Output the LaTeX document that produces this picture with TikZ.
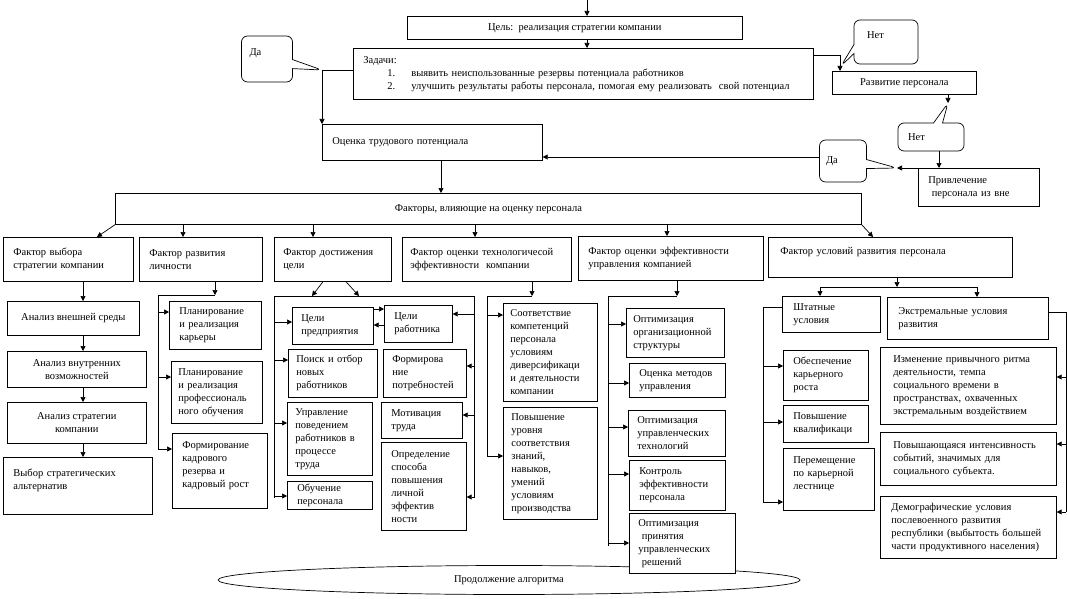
\documentclass[tikz,border=0pt]{standalone}
\usepackage{fontspec}
\setmainfont{Liberation Serif}
\usetikzlibrary{arrows.meta,shapes.geometric,shapes.callouts}
\hyphenpenalty=10000
\exhyphenpenalty=10000
\begin{document}
\begin{tikzpicture}[x=1pt,y=-1pt,line width=0.7pt,
  font=\fontsize{10.5}{13}\selectfont,
  box/.style n args={3}{draw,fill=white,anchor=north west,inner sep=0pt,align=left,minimum width=#1pt,minimum height=#2pt,text width=#3pt},
  cbox/.style 2 args={draw,fill=white,anchor=north west,inner sep=0pt,align=center,minimum width=#1pt,minimum height=#2pt},
  say/.style={rectangle callout,draw,fill=white,rounded corners=6pt,callout pointer width=9pt,inner sep=0pt,align=left},
  arr/.style={-{Triangle[length=5pt,width=5pt]}}]
\useasboundingbox (0,0) rectangle (1067,599);

\node[draw,ellipse,minimum width=582pt,minimum height=29pt,inner sep=0pt] (cont) at (509,580) {Продолжение алгоритма};

% top
\node[cbox={335}{23}] (goal) at (407,16) {Цель:\ \ реализация стратегии компании};
\node[box={460}{51}{440}] (tasks) at (353,48) {Задачи:\\\hspace*{24pt}\makebox[24pt][l]{1.}выявить неиспользованные резервы потенциала работников\\\hspace*{24pt}\makebox[24pt][l]{2.}улучшить результаты работы персонала, помогая ему реализовать\ \ свой потенциал};
\node[box={220}{36}{200}] (ocenka) at (322,124) {Оценка трудового потенциала};
\node[cbox={144}{23}] (razv) at (832,71) {Развитие персонала};
\node[box={121}{38}{101}] (privl) at (918,168) {Привлечение\\\ персонала из вне};
\node[cbox={746}{31}] (factors) at (115,193) {Факторы, влияющие на оценку персонала};

\coordinate (top) at (587,0);
\coordinate (yes1) at (322,70);
\coordinate (no1) at (840,55);
\coordinate (no1tip) at (841,66);
\coordinate (no2tip) at (948,103);
\coordinate (yes2tip) at (897,168);

\node[say,callout absolute pointer={(yes1)},minimum width=51pt,minimum height=46pt,text width=35pt] (da1) at (267,59) {Да\\\mbox{}};
\node[say,callout absolute pointer={(no1tip)},minimum width=64pt,minimum height=44pt,text width=38pt] (net1) at (886,42) {Нет\\\mbox{}};
\node[say,callout absolute pointer={(no2tip)},minimum width=66pt,minimum height=28pt,text width=46pt] (net2) at (931,137) {Нет};
\node[say,callout absolute pointer={(yes2tip)},minimum width=47pt,minimum height=42pt,text width=34pt] (da2) at (843,161) {Да};

\draw[arr] (top) -- (goal.north -| top);
\draw[arr] (goal.south -| top) -- (tasks.north -| top);
\draw (tasks.west |- yes1) -- (yes1);
\draw[arr] (yes1) -- (ocenka.north west);
\draw[arr] (tasks.east |- no1) -- (no1) -- (razv.north -| no1);
\draw[arr] (razv.south -| no2tip) -- (no2tip);
\draw[arr] (net2.south -| 939,0) -- (privl.north -| 939,0);
\draw[arr] (privl.north west) -- (yes2tip);
\draw[arr] (da2.west |- 0,157) -- (ocenka.east |- 0,157);
\draw[arr] (ocenka.south -| 441,0) -- (factors.north -| 441,0);

% factors
\node[box={130}{44}{110}] (f1) at (3,237) {Фактор выбора\\стратегии компании};
\node[box={123}{44}{103}] (f2) at (139,237) {Фактор развития\\личности};
\node[box={117}{44}{99}] (f3) at (274,237) {Фактор достижения\\цели};
\node[box={169}{44}{153}] (f4) at (402,237) {Фактор оценки технологичесой\\эффективности\ \ компании};
\node[box={185}{44}{165}] (f5) at (578,236) {Фактор оценки эффективности\\управления компанией};
\node[box={244}{40}{220}] (f6) at (768,237) {Фактор условий развития персонала\\\mbox{}};

\draw[arr] (factors.south west) -- (f1.north -| 97,0);
\foreach \xx/\ff in {183/f2,313/f3,475/f4,667/f5}
  \draw[arr] (factors.south -| \xx,0) -- (\ff.north -| \xx,0);
\draw[arr] (factors.south east) -- (f6.north -| 873,0);

% strategy
\node[cbox={132}{34}] (a1) at (7,301) {Анализ внешней среды};
\node[cbox={139}{36}] (a2) at (7,351) {Анализ внутренних\\возможностей};
\node[cbox={139}{41}] (a3) at (7,402) {Анализ стратегии\\компании};
\node[box={149}{57}{129}] (a4) at (3,457) {Выбор стратегических\\альтернатив\\\mbox{}};
\foreach \pp/\qq in {f1/a1,a1/a2,a2/a3,a3/a4}
  \draw[arr] (\pp.south -| 83,0) -- (\qq.north -| 83,0);

% personality
\coordinate (busB) at (158,295);
\node[box={92}{48}{72}] (b1) at (169,301) {Планирование\\и реализация\\карьеры};
\node[box={91}{62}{77}] (b2) at (171,361) {Планирование\\и реализация\\профессиональ\\ного обучения};
\node[box={95}{75}{75}] (b3) at (172,433) {Формирование\\кадрового\\резерва и\\кадровый рост\\\mbox{}};
\draw[arr] (f2.south -| 215,0) -- (busB -| 215,0);
\draw (busB -| 215,0) -- (busB) -- (busB |- 0,450);
\foreach \bx/\yy in {b1/312,b2/377,b3/449}
  \draw[arr] (busB |- 0,\yy) -- (\bx.west |- 0,\yy);

% goals
\coordinate (busCl) at (274,296);
\coordinate (busCr) at (474,296);
\node[box={81}{37}{63}] (c1) at (292,307) {Цели\\предприятия};
\node[box={68}{37}{48}] (c2) at (384,305) {Цели\\работника};
\node[box={89}{48}{73}] (c3) at (288,349) {Поиск и отбор\\новых\\работников};
\node[box={83}{48}{65}] (c4) at (383,349) {Формирова\\ние\\потребностей};
\node[box={85}{73}{69}] (c5) at (287,402) {Управление\\поведением\\работников в\\процессе\\труда};
\node[box={81}{36}{61}] (c6) at (381,402) {Мотивация\\труда};
\node[box={85}{28}{65}] (c7) at (287,481) {Обучение\\персонала};
\node[box={85}{88}{65}] (c8) at (381,442) {Определение\\способа\\повышения\\личной\\эффектив\\ности};
\draw[arr] (f3.south -| 323,0) -- (busCl -| 312,0);
\draw[arr] (f3.south -| 346,0) -- (busCl -| 359,0);
\draw (busCl |- 0,498) -- (busCl) -- (busCr) -- (busCr |- 0,498);
\foreach \cx/\yy in {c1/322,c3/360,c5/423,c7/496}
  \draw[arr] (busCl |- 0,\yy) -- (\cx.west |- 0,\yy);
\foreach \cx/\yy in {c2/314,c4/366,c6/415,c8/497}
  \draw[arr] (busCr |- 0,\yy) -- (\cx.east |- 0,\yy);
\draw[arr] (c1.east |- 0,309) -- (c2.west |- 0,309);
\draw[arr] (c2.west |- 0,325) -- (c1.east |- 0,325);

% technology
\coordinate (busD) at (487,296);
\node[box={94}{98}{80}] (d1) at (503,303) {Соответствие\\компетенций\\персонала\\условиям\\диверсификаци\\и деятельности\\компании};
\node[box={94}{112}{78}] (d2) at (503,407) {Повышение\\уровня\\соответствия\\знаний,\\навыков,\\умений\\условиям\\производства};
\draw[arr] (f4.south -| 532,0) -- (busD -| 532,0);
\draw (busD -| 532,0) -- (busD) -- (busD |- 0,456);
\foreach \dx/\yy in {d1/315,d2/456}
  \draw[arr] (busD |- 0,\yy) -- (\dx.west |- 0,\yy);

% management
\coordinate (busE) at (608,296);
\node[box={98}{49}{84}] (e1) at (626,308) {Оптимизация\\организационной\\структуры};
\node[box={96}{34}{76}] (e2) at (629,363) {Оценка методов\\управления};
\node[box={97}{46}{79}] (e3) at (628,410) {Оптимизация\\управленческих\\технологий};
\node[box={96}{50}{76}] (e4) at (629,460) {Контроль\\эффективности\\персонала};
\node[box={106}{60}{88}] (e5) at (629,513) {Оптимизация\\\ принятия\\управленческих\\\ решений};
\draw[arr] (f5.south -| 677,0) -- (busE -| 677,0);
\draw (busE -| 677,0) -- (busE) -- (busE |- 0,546);
\foreach \ex/\yy in {e1/324,e2/383,e3/427,e4/474,e5/543}
  \draw[arr] (busE |- 0,\yy) -- (\ex.west |- 0,\yy);

% conditions
\coordinate (busG) at (897,287);
\node[box={98}{36}{76}] (g1) at (782,296) {Штатные\\условия};
\node[box={161}{42}{139}] (g2) at (887,297) {Экстремальные условия\\развития};
\draw[arr] (f6.south -| busG) -- (busG);
\draw[arr] (busG) -- (busG -| 820,0) -- (g1.north -| 820,0);
\draw[arr] (busG) -- (busG -| 977,0) -- (g2.north -| 977,0);

\coordinate (busH) at (763,307);
\node[box={85}{50}{65}] (h1) at (783,350) {Обеспечение\\карьерного\\роста};
\node[box={85}{37}{65}] (h2) at (783,405) {Повышение\\квалификаци};
\node[box={91}{62}{71}] (h3) at (783,448) {Перемещение\\по карьерной\\лестнице\\\mbox{}};
\draw (g1.west |- busH) -- (busH) -- (busH |- 0,503);
\foreach \hx/\yy in {h1/366,h2/422,h3/502}
  \draw[arr] (busH |- 0,\yy) -- (\hx.west |- 0,\yy);

\coordinate (busI) at (1066,312);
\node[box={176}{77}{150}] (i1) at (880,347) {Изменение привычного ритма\\деятельности, темпа\\социального времени в\\пространствах, охваченных\\экстремальным воздействием};
\node[box={176}{53}{150}] (i2) at (880,432) {Повышающаяся интенсивность\\событий, значимых для\\социального субъекта.};
\node[box={176}{62}{154}] (i3) at (880,496) {Демографические условия\\послевоенного развития\\республики (выбытость большей\\части продуктивного населения)};
\draw (g2.east |- busI) -- (busI) -- (busI |- 0,512);
\foreach \ix/\yy in {i1/377,i2/444,i3/512}
  \draw[arr] (busI |- 0,\yy) -- (\ix.east |- 0,\yy);
\end{tikzpicture}
\end{document}
